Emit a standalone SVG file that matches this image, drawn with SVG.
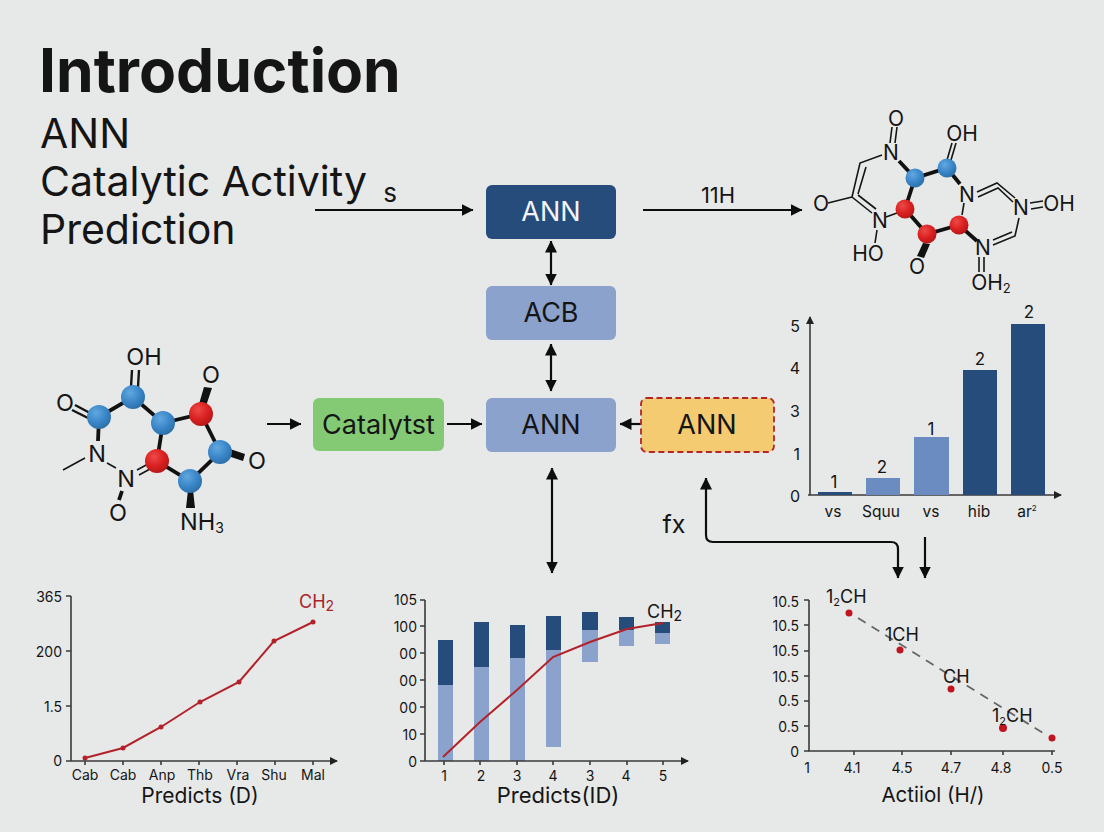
<svg xmlns="http://www.w3.org/2000/svg" width="1104" height="832" viewBox="0 0 1104 832">
<defs>
<marker id="a" viewBox="0 0 12 12" refX="11.500" refY="6" markerWidth="12" markerHeight="12" markerUnits="userSpaceOnUse" orient="auto-start-reverse"><path d="M0 0L12 6L0 12Z" fill="#0d0d0d"/></marker>
<marker id="s" viewBox="0 0 8 8" refX="7" refY="4" markerWidth="8" markerHeight="8" markerUnits="userSpaceOnUse" orient="auto"><path d="M0 0L8 4L0 8Z" fill="#222"/></marker>
<radialGradient id="blue" cx=".38" cy=".32" r=".75"><stop offset="0" stop-color="#62a8e0"/><stop offset=".55" stop-color="#3a86c8"/><stop offset="1" stop-color="#2a6ca3"/></radialGradient>
<radialGradient id="red" cx=".38" cy=".32" r=".75"><stop offset="0" stop-color="#ec4a48"/><stop offset=".55" stop-color="#d9201f"/><stop offset="1" stop-color="#b01618"/></radialGradient>
</defs>
<style>
text{font-family:Inter,"Liberation Sans",Arial,sans-serif;fill:#151515}
.c{stroke:#0d0d0d;stroke-width:2.200;fill:none}
.b{stroke:#111;stroke-width:3.800;fill:none}
.t{stroke:#151515;stroke-width:1.600;fill:none}
.ax{stroke:#3a3a3a;stroke-width:1.600;fill:none}
.m{font-size:21px;text-anchor:middle}
.ml{font-size:23.500px;text-anchor:middle}
.n{font-size:27px;text-anchor:middle}
.tk{font-size:14px;text-anchor:middle}
.ty{font-size:14px;text-anchor:end}
.by{font-size:16px;text-anchor:end}
.bv{font-size:17px;text-anchor:middle}
.bx{font-size:15.500px;text-anchor:middle}
.xl{font-size:21px;text-anchor:middle}
.ch{font-size:18px}
.bl{fill:url(#blue)}.rd{fill:url(#red)}
.dk{fill:#264c7c}.lt{fill:#8ba2cd}.md{fill:#6b8cc0}
</style>
<rect width="1104" height="832" fill="#e7e8e8"/>
<g id="title">
<text x="39" y="92" font-size="60.500" font-weight="700">Introduction</text>
<text x="40" y="148" font-size="41">ANN</text>
<text x="40" y="196" font-size="41">Catalytic Activity</text>
<text x="40" y="244" font-size="41">Prediction</text>
</g>
<g id="connectors">
<path class="c" d="M315 210H473" marker-end="url(#a)"/>
<path class="c" d="M643 210H802" marker-end="url(#a)"/>
<path class="c" d="M551 241V285" marker-start="url(#a)" marker-end="url(#a)"/>
<path class="c" d="M551 344V391" marker-start="url(#a)" marker-end="url(#a)"/>
<path class="c" d="M267 424H301" marker-end="url(#a)"/>
<path class="c" d="M447 424H482" marker-end="url(#a)"/>
<path class="c" d="M641 424H620" marker-end="url(#a)"/>
<path class="c" d="M552 468V573" marker-start="url(#a)" marker-end="url(#a)"/>
<path class="c" d="M706 478V535Q706 542 713 542H891Q898 542 898 549V578" marker-start="url(#a)" marker-end="url(#a)"/>
<path class="c" d="M925 537V578" marker-end="url(#a)"/>
</g>
<text x="390" y="202" font-size="26" text-anchor="middle">s</text>
<text x="718" y="203" font-size="22" text-anchor="middle">11H</text>
<text x="674" y="533" font-size="25" text-anchor="middle">fx</text>
<g id="n1"><rect x="486" y="185" width="130" height="54" rx="6" fill="#264c7c"/><text x="551" y="221" class="n" style="fill:#f2f4f8">ANN</text></g>
<g id="n2"><rect x="486" y="286" width="130" height="54" rx="6" fill="#8ba2cd"/><text x="551" y="322" class="n">ACB</text></g>
<g id="n3"><rect x="486" y="398" width="130" height="54" rx="6" fill="#8ba2cd"/><text x="551" y="434" class="n">ANN</text></g>
<g id="n4"><rect x="313" y="398" width="131" height="53" rx="6" fill="#84c974"/><text x="378.500" y="434" class="n">Catalytst</text></g>
<g id="n5"><rect x="641" y="398" width="133" height="54" rx="6" fill="#f4cb70" stroke="#b2262a" stroke-width="1.800" stroke-dasharray="6 3.500"/><text x="707" y="434" class="n">ANN</text></g>
<g id="mol-top">
<path class="t" d="M882 155L860 163L852 197L872 213M866 167L858 194M858 195L876 209M828 203L852 197M892 127L890 143M897 127L895 143M952 143L947 160M956 143L951 160M964 203L962 215M977 192L997 183L1015 198M978 197L998 188L1013 202M1030 203L1043 201M1031 209L1043 207M1019 218L1015 236L993 245M1012 232L993 240M979 257V272M984 257V272M877 230L875 243M886 217L897 213"/>
<path class="b" d="M899 161L915 178L947 168L960 184M915 178L905 209L927 234L959 225L977 241"/>
<path d="M923 243L917 256L924 258L930 244Z" fill="#111"/>
<circle class="bl" cx="915" cy="178" r="9.500"/><circle class="bl" cx="947" cy="168" r="9.500"/><circle class="rd" cx="905" cy="209" r="9.500"/><circle class="rd" cx="927" cy="234" r="9.500"/><circle class="rd" cx="959" cy="225" r="9.500"/>
<text x="896" y="126" class="m">O</text><text x="962" y="141" class="m">OH</text><text x="821" y="211" class="m">O</text><text x="880" y="228" class="m">N</text><text x="868" y="261" class="m">HO</text><text x="917" y="274" class="m">O</text><text x="891" y="160" class="m">N</text><text x="967" y="202" class="m">N</text><text x="1021" y="215" class="m">N</text><text x="983" y="255" class="m">N</text><text x="1059" y="211" class="m">OH</text><text x="991" y="290" class="m">OH<tspan font-size="13" dy="3">2</tspan></text>
</g>
<g id="mol-left">
<path class="t" d="M85 458L63 470M107 463L116 468M137 470L148 464M139 475L150 469"/>
<path class="t" style="stroke-width:2.400" d="M75 405L90 413M72 410L88 418M132 370L131 387M139 370L138 387"/>
<path class="b" d="M99 417L133 397L163 423L201 414L220 452L190 481L157 461L163 423M99 417L98 441M122 491L119 500"/>
<path d="M188 490H193L195 508H186ZM199 404L204 387L212 388L206 406ZM230 449L245 454L243 461L228 456Z" fill="#111"/>
<circle class="bl" cx="99" cy="417" r="12"/><circle class="bl" cx="133" cy="397" r="12"/><circle class="bl" cx="163" cy="423" r="12"/><circle class="rd" cx="201" cy="414" r="12"/><circle class="bl" cx="220" cy="452" r="12"/><circle class="rd" cx="157" cy="461" r="12"/><circle class="bl" cx="190" cy="481" r="12"/>
<text x="144" y="365" class="ml">OH</text><text x="65" y="411" class="ml">O</text><text x="211" y="383" class="ml">O</text><text x="257" y="469" class="ml">O</text><text x="97" y="462" class="ml">N</text><text x="126" y="487" class="ml">N</text><text x="118" y="521" class="ml">O</text><text x="202" y="530" class="ml">NH<tspan font-size="14" dy="3">3</tspan></text>
</g>
<g id="chart-bars">
<path class="ax" d="M810 495V317" marker-end="url(#s)"/><path class="ax" d="M808 495H1061" marker-end="url(#s)"/>
<rect x="818" y="492" width="34" height="3" class="dk"/><rect x="866" y="478" width="34" height="17" class="md"/><rect x="914" y="437" width="35" height="58" class="md"/><rect x="963" y="370" width="34" height="125" class="dk"/><rect x="1011" y="324" width="34" height="171" class="dk"/>
<text x="800" y="332" class="by">5</text><text x="800" y="374" class="by">4</text><text x="800" y="417" class="by">3</text><text x="800" y="460" class="by">1</text><text x="800" y="502" class="by">0</text>
<text x="834" y="488" class="bv">1</text><text x="882" y="473" class="bv">2</text><text x="931" y="435" class="bv">1</text><text x="980" y="365" class="bv">2</text><text x="1029" y="318" class="bv">2</text>
<text x="833" y="517" class="bx">vs</text><text x="881" y="517" class="bx">Squu</text><text x="931" y="517" class="bx">vs</text><text x="979" y="517" class="bx">hib</text><text x="1027" y="517" class="bx">ar<tspan font-size="8" dy="-6">2</tspan></text>
</g>
<g id="chart-line">
<path class="ax" d="M71 596V761M66 596H71M66 651H71M66 706H71M66 761H337" marker-end="url(#s)"/>
<path class="ax" d="M85 761v4M123 761v4M161 761v4M199 761v4M237 761v4M275 761v4M313 761v4"/>
<path d="M85 758L123 748L161 727L200 702L239 682L274 641L313 622" fill="none" stroke="#b3222b" stroke-width="2"/>
<g fill="#b3222b"><circle cx="85" cy="758" r="2.500"/><circle cx="123" cy="748" r="2.500"/><circle cx="161" cy="727" r="2.500"/><circle cx="200" cy="702" r="2.500"/><circle cx="239" cy="682" r="2.500"/><circle cx="274" cy="641" r="2.500"/><circle cx="313" cy="622" r="2.500"/></g>
<text x="62" y="602" class="ty">365</text><text x="62" y="657" class="ty">200</text><text x="62" y="712" class="ty">1.5</text><text x="62" y="766" class="ty">0</text>
<text x="299" y="608" class="ch" style="fill:#a8232a">CH<tspan font-size="14" dy="3">2</tspan></text>
<text x="85" y="780" class="tk">Cab</text><text x="123" y="780" class="tk">Cab</text><text x="162" y="780" class="tk">Anp</text><text x="200" y="780" class="tk">Thb</text><text x="238" y="780" class="tk">Vra</text><text x="274" y="780" class="tk">Shu</text><text x="313" y="780" class="tk">Mal</text>
<text x="200" y="803" class="xl">Predicts (D)</text>
</g>
<g id="chart-combo">
<path class="lt" d="M438 685h15v76h-15zM474 667h15v94h-15zM510 658h15v103h-15zM546 650h15v97h-15zM582 630h16v32h-16zM619 630h15v16h-15zM655 633h15v11h-15z"/>
<path class="dk" d="M438 640h15v45h-15zM474 622h15v45h-15zM510 625h15v33h-15zM546 616h15v34h-15zM582 612h16v18h-16zM619 617h15v13h-15zM655 622h15v11h-15z"/>
<path class="ax" d="M425 600V761M425 600h-5M425 626h-5M425 653h-5M425 680h-5M425 707h-5M425 734h-5M420 761H688" marker-end="url(#s)"/>
<path class="ax" d="M444 761v4M480 761v4M517 761v4M553 761v4M590 761v4M627 761v4M663 761v4"/>
<path d="M443 757L480 722L517 690L553 657L590 642L627 629L663 623" fill="none" stroke="#b3222b" stroke-width="2"/>
<text x="417" y="605" class="ty">105</text><text x="417" y="632" class="ty">100</text><text x="417" y="659" class="ty">00</text><text x="417" y="686" class="ty">00</text><text x="417" y="713" class="ty">00</text><text x="417" y="740" class="ty">10</text><text x="417" y="767" class="ty">0</text>
<text x="444" y="781" class="tk">1</text><text x="481" y="781" class="tk">2</text><text x="517" y="781" class="tk">3</text><text x="553" y="781" class="tk">4</text><text x="590" y="781" class="tk">3</text><text x="626" y="781" class="tk">4</text><text x="663" y="781" class="tk">5</text>
<text x="647" y="618" class="ch">CH<tspan font-size="14" dy="3">2</tspan></text>
<text x="558" y="803" class="xl" style="font-size:22px">Predicts(ID)</text>
</g>
<g id="chart-scatter">
<path class="ax" d="M809 600V751H1055"/>
<path class="ax" d="M809 600h-5M809 625h-5M809 651h-5M809 676h-5M809 701h-5M809 726h-5M809 751h-5M854 751v4M902 751v4M951 751v4M1003 751v4M1052 751v4"/>
<path d="M858 618L1043 733" fill="none" stroke="#666" stroke-width="1.800" stroke-dasharray="9 7"/>
<g fill="#c01420"><circle cx="849" cy="613" r="3.500"/><circle cx="900" cy="650" r="3.500"/><circle cx="951" cy="689" r="3.500"/><circle cx="1003" cy="728" r="4"/><circle cx="1052" cy="738" r="3.500"/></g>
<text x="826" y="603" class="ch">1<tspan font-size="11" dy="3">2</tspan><tspan dy="-3">CH</tspan></text><text x="885" y="641" class="ch">1CH</text><text x="943" y="683" class="ch">CH</text><text x="992" y="722" class="ch">1<tspan font-size="11" dy="3">2</tspan><tspan dy="-3">CH</tspan></text>
<text x="799" y="607" class="ty">10.5</text><text x="799" y="631" class="ty">10.5</text><text x="799" y="656" class="ty">10.5</text><text x="799" y="682" class="ty">10.5</text><text x="799" y="706" class="ty">0.5</text><text x="799" y="732" class="ty">0.5</text><text x="799" y="757" class="ty">0</text>
<text x="807" y="773" class="tk">1</text><text x="852" y="773" class="tk">4.1</text><text x="902" y="773" class="tk">4.5</text><text x="951" y="773" class="tk">4.7</text><text x="1001" y="773" class="tk">4.8</text><text x="1052" y="773" class="tk">0.5</text>
<text x="933" y="802" class="xl" style="font-size:20.500px">Actiiol (H/)</text>
</g>
</svg>
